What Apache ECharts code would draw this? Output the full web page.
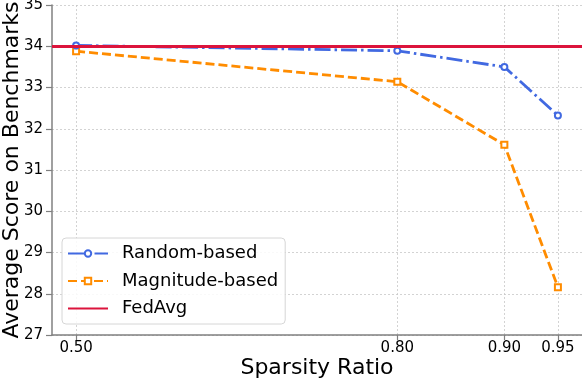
<!DOCTYPE html>
<html>
<head>
<meta charset="utf-8">
<script src="https://cdn.jsdelivr.net/npm/echarts@6/dist/echarts.min.js"></script>
<style>
  html, body { margin: 0; padding: 0; background: #fff; }
  #chart { width: 582px; height: 382px; }
</style>
</head>
<body>
<div id="chart"></div>
<script>
  // sparsity ratios on the x axis
  const sparsity = [0.50, 0.80, 0.90, 0.95];
  const xTicks = [0.50, 0.80, 0.90, 0.95];
  // average scores
  const randomScores = [34.02, 33.89, 33.50, 32.32];
  const magnitudeScores = [33.88, 33.14, 31.61, 28.16];
  const fedAvgScore = 34.0;

  const font = 'DejaVu Sans';
  const pairs = (ys) => sparsity.map((x, i) => [x, ys[i]]);

  let chart = echarts.init(document.getElementById('chart'));
  let option = {
    animation: false,
    grid: { left: 52, right: 0, top: 5, bottom: 47, outerBoundsMode: 'none', containLabel: false },
    xAxis: {
      type: 'value',
      min: 0.4775,
      max: 0.9725,
      name: 'Sparsity Ratio',
      nameLocation: 'middle',
      nameGap: 22,
      nameMoveOverlap: false,
      nameTextStyle: { fontFamily: font, fontSize: 22, color: '#000' },
      axisLine: { onZero: false, lineStyle: { color: '#808080', width: 1.5 } },
      axisTick: { customValues: xTicks, length: 5, lineStyle: { color: '#808080', width: 1.2 } },
      axisLabel: {
        customValues: xTicks,
        fontFamily: font, fontSize: 15, color: '#000', margin: 6,
        formatter: v => v.toFixed(2)
      },
      splitLine: { show: true, lineStyle: { color: '#c8c8c8', type: [2, 2], width: 0.8 } }
    },
    yAxis: {
      type: 'value',
      min: 27,
      max: 35,
      interval: 1,
      name: 'Average Score on Benchmarks',
      nameLocation: 'middle',
      nameGap: 29,
      nameMoveOverlap: false,
      nameTextStyle: { fontFamily: font, fontSize: 22, color: '#000' },
      axisLine: { show: true, lineStyle: { color: '#808080', width: 1.5 } },
      axisTick: { show: true, length: 6, lineStyle: { color: '#808080', width: 1.2 } },
      axisLabel: { fontFamily: font, fontSize: 15, color: '#000', margin: 9 },
      splitLine: { show: true, lineStyle: { color: '#c8c8c8', type: [2, 2], width: 0.8 } }
    },
    legend: {
      left: 62,
      top: 238,
      orient: 'vertical',
      itemWidth: 40,
      itemHeight: 8,
      itemGap: 6.5,
      padding: [5, 7, 5, 5],
      borderColor: '#d6d6d6',
      borderWidth: 1,
      borderRadius: 4,
      backgroundColor: 'rgba(255,255,255,0.85)',
      textStyle: { fontFamily: font, fontSize: 18, color: '#000', lineHeight: 21, padding: [0, 0, 0, 9] },
      data: ['Random-based', 'Magnitude-based', { name: 'FedAvg', itemStyle: { opacity: 0 } }]
    },
    series: [
      {
        name: 'Random-based',
        type: 'line',
        data: pairs(randomScores),
        symbol: 'emptyCircle',
        symbolSize: 6,
        z: 3,
        itemStyle: { color: '#4169e1', borderWidth: 1.5 },
        lineStyle: { color: '#4169e1', width: 2.8, type: [16, 4, 2.5, 4] }
      },
      {
        name: 'Magnitude-based',
        type: 'line',
        data: pairs(magnitudeScores),
        symbol: 'emptyRect',
        symbolSize: 6,
        z: 2,
        itemStyle: { color: '#ff8c00', borderWidth: 1.5 },
        lineStyle: { color: '#ff8c00', width: 2.8, type: [9, 4] }
      },
      {
        name: 'FedAvg',
        type: 'line',
        data: [],
        symbol: 'none',
        z: 4,
        itemStyle: { color: '#dc143c' },
        lineStyle: { color: '#dc143c', width: 2.8 },
        markLine: {
          silent: true,
          symbol: 'none',
          label: { show: false },
          lineStyle: { color: '#dc143c', width: 2.8, type: 'solid' },
          data: [{ yAxis: fedAvgScore }]
        }
      }
    ]
  };
  chart.setOption(option);
</script>
</body>
</html>
